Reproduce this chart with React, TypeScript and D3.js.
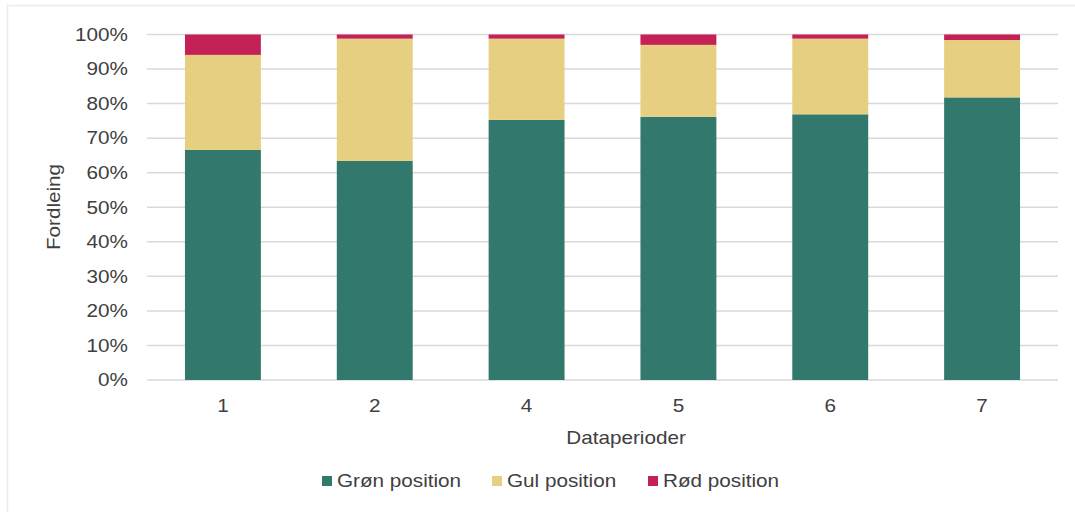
import React from 'react';
import * as d3 from 'd3';

const categories = ['1', '2', '4', '5', '6', '7'];
const seriesNames = ['Grøn position', 'Gul position', 'Rød position'];
const groen = [66.6, 63.4, 75.3, 76.2, 76.9, 81.8];
const gul = [27.5, 35.4, 23.5, 20.8, 21.9, 16.6];
const roed = [5.9, 1.2, 1.2, 3.0, 1.2, 1.6];
const colors = ['#33786d', '#e6cf80', '#c42157'];
const yTicks = [0, 10, 20, 30, 40, 50, 60, 70, 80, 90, 100];

const W = 1075;
const H = 512;
const left = 147;
const right = 1058;
const top = 34.5;
const bottom = 380;

const font = '"Liberation Sans", Arial, sans-serif';
const textColor = '#404040';
const fs = 18;
const stretch = 1.15;

// text slightly wider than the font, like the reference
const Txt = ({ x, y, anchor = 'start', rotate = 0, children }: any) => (
  <text
    transform={`translate(${x},${y}) rotate(${rotate}) scale(${stretch},1)`}
    dy="0.35em"
    textAnchor={anchor}
    fontSize={fs}
    fill={textColor}
  >
    {children}
  </text>
);

export default function App() {
  const x = d3.scaleBand().domain(categories).range([left, right]).paddingInner(0.5).paddingOuter(0.25);
  const y = d3.scaleLinear().domain([0, 100]).range([bottom, top]);

  const rows = categories.map((c, i) => ({ cat: c, g: groen[i], y: gul[i], r: roed[i] }));
  const stack = d3.stack<any>().keys(['g', 'y', 'r'])(rows);

  const legendX = [322, 492, 648];

  return (
    <div style={{ position: 'absolute', left: 0, top: 0 }}>
      <svg width={W} height={H} style={{ display: 'block', fontFamily: font }}>
        <rect x={0} y={0} width={W} height={H} fill="#fff" />
        <rect x={7.5} y={5.5} width={1090} height={540} fill="none" stroke="#ececec" strokeWidth={1.5} />

        {yTicks.map(t => (
          <g key={t}>
            <line x1={left} x2={right} y1={y(t)} y2={y(t)} stroke="#d9d9dd" strokeWidth={1.5} />
            <Txt x={128} y={y(t)} anchor="end">{t}%</Txt>
          </g>
        ))}

        {stack.map((layer, si) => (
          <g key={si} fill={colors[si]}>
            {layer.map((d, i) => (
              <rect key={i} x={x(categories[i])} width={x.bandwidth()} y={y(d[1])} height={y(d[0]) - y(d[1])} />
            ))}
          </g>
        ))}

        {categories.map(c => (
          <Txt key={c} x={(x(c) as number) + x.bandwidth() / 2} y={406} anchor="middle">{c}</Txt>
        ))}

        <Txt x={626} y={438} anchor="middle">Dataperioder</Txt>
        <Txt x={54} y={207} anchor="middle" rotate={-90}>Fordleing</Txt>

        {seriesNames.map((n, i) => (
          <g key={n}>
            <rect x={legendX[i]} y={476} width={10} height={10} fill={colors[i]} />
            <Txt x={legendX[i] + 15} y={481}>{n}</Txt>
          </g>
        ))}
      </svg>
    </div>
  );
}
